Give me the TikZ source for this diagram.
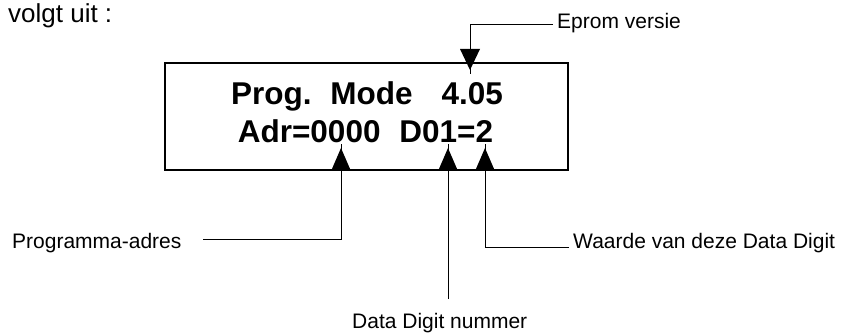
\documentclass[tikz,border=0pt]{standalone}
\usepackage{fontspec}
\setmainfont{Liberation Sans}
\begin{document}
\begin{tikzpicture}[x=1pt,y=-1pt,
  lbl/.style={inner sep=0pt,font=\fontsize{21}{24}\selectfont},
  lcd/.style={inner sep=0pt,font=\fontsize{31.5}{36}\selectfont\bfseries},
  lead/.style={line width=1pt},
  tri/.style={fill=black,draw=none}]
\useasboundingbox (0,0) rectangle (842,336);
% intro text
\node[inner sep=0pt,anchor=base west,font=\fontsize{26}{30}\selectfont] (intro) at (8,23) {volgt uit :};
% display box
\node[draw,line width=2pt,minimum width=403pt,minimum height=107pt,inner sep=0pt] (box) at (366.5,116.5) {};
\node[lcd,anchor=base] (l1) at (367,105) {Prog.\hspace{0.6em}Mode\hspace{0.92em}4.05};
\node[lcd,anchor=base] (l2) at (365.5,143) {Adr=0000\hspace{0.6em}D01=2};
% labels
\node[lbl,anchor=base west] (eprom) at (557,29) {Eprom versie};
\node[lbl,anchor=base west] (prog) at (12,249) {Programma-adres};
\node[lbl,anchor=base west] (nr) at (352,328) {Data Digit nummer};
\node[lbl,anchor=base west] (waarde) at (573,249) {Waarde van deze Data Digit};
% coordinates
\coordinate (e1) at (553,25);
\coordinate (e2) at (470,25);
\coordinate (etip) at (470,70);
\coordinate (p1) at (203,240);
\coordinate (p2) at (341,240);
\coordinate (ptip) at (341,148);
\coordinate (dend) at (448,299);
\coordinate (dtip) at (448,148);
\coordinate (w1) at (569,248);
\coordinate (w2) at (485,248);
\coordinate (wtip) at (485,148);
% leaders
\draw[lead] (e1) -- (e2) -- ([yshift=-4pt]etip);
\fill[tri] (etip) -- ++(-10,-21) -- ++(20,0) -- cycle;
\draw[lead] (p1) -- (p2) -- ([yshift=4pt]ptip);
\fill[tri] (ptip) -- ++(-9.5,22) -- ++(19,0) -- cycle;
\draw[lead] (dend) -- ([yshift=4pt]dtip);
\fill[tri] (dtip) -- ++(-9.5,22) -- ++(19,0) -- cycle;
\draw[lead] (w1) -- (w2) -- ([yshift=4pt]wtip);
\fill[tri] (wtip) -- ++(-9.5,22) -- ++(19,0) -- cycle;
\end{tikzpicture}
\end{document}
